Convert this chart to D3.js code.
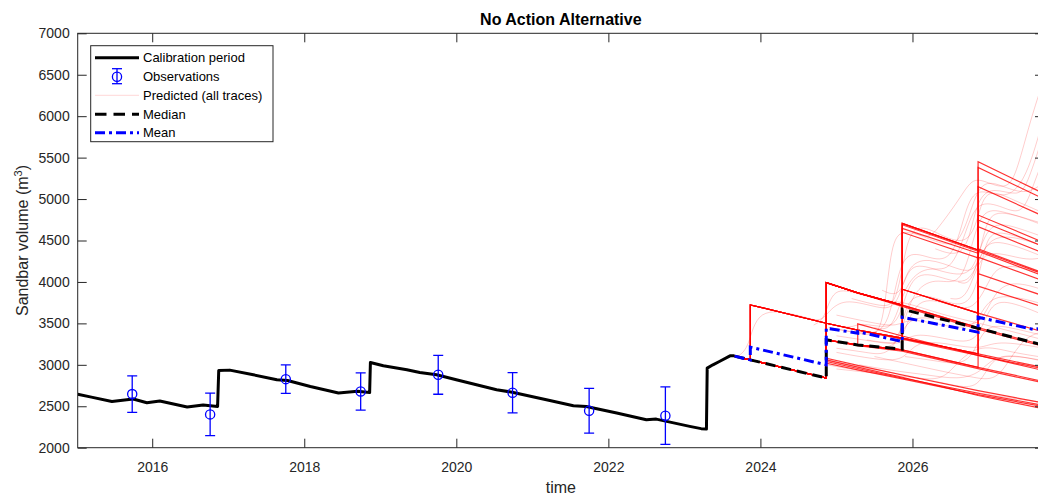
<!DOCTYPE html>
<html>
<head>
<meta charset="utf-8">
<script src="https://cdn.jsdelivr.net/npm/d3@7"></script>
<style>
body { margin: 0; background: #fff; }
svg { display: block; font-family: "Liberation Sans", Arial, Helvetica, sans-serif; }
</style>
</head>
<body>
<div id="chart"></div>
<script>
// calibration run (decimal years / m3)
var calYears = [2015.02, 2015.20, 2015.47, 2015.75, 2015.93, 2016.10, 2016.46, 2016.67, 2016.86,
  2016.875, 2017.02, 2017.33, 2017.64, 2017.78, 2018.08, 2018.45, 2018.70, 2018.86,
  2018.87, 2019.04, 2019.35, 2019.52, 2019.74, 2020.00, 2020.53, 2020.75, 2021.23, 2021.54, 2021.71,
  2022.11, 2022.50, 2022.63, 2023.07, 2023.22, 2023.29, 2023.30, 2023.375, 2023.46, 2023.60, 2023.66];
var calVolumes = [2645, 2610, 2558, 2587, 2542, 2563, 2490, 2514, 2498,
  2931, 2936, 2880, 2819, 2811, 2739, 2660, 2680, 2665,
  3028, 2988, 2940, 2908, 2880, 2819, 2699, 2667, 2570, 2506, 2498,
  2418, 2337, 2345, 2257, 2230, 2225, 2960, 3000, 3040, 3108, 3108];

// observations with error bars
var obsYears = [2015.737, 2016.762, 2017.757, 2018.742, 2019.762, 2020.740, 2021.747, 2022.750];
var obsVolumes = [2647, 2402, 2827, 2679, 2880, 2663, 2446, 2386];
var obsErrors = [220, 257, 172, 225, 235, 243, 271, 347];

// predicted step traces, all share stepYears (repeated years = sudden HFE deposition)
var stepYears = [2023.66, 2023.867, 2023.867, 2024.866, 2024.866, 2025.28, 2025.28, 2025.865, 2025.865, 2026.863, 2026.863, 2027.73];
var stepTraces = [
  [3105, 3060, 3060, 2840, 3040, 2956, 2956, 2841, 2841, 2657, 2657, 2510],
  [3105, 3060, 3060, 2840, 3080, 2994, 2994, 2877, 2877, 2689, 2689, 2538],
  [3105, 3060, 3060, 2840, 3060, 2972, 2972, 2850, 2850, 2630, 2630, 2470],
  [3105, 3060, 3060, 2840, 3020, 2940, 2940, 2830, 2830, 2640, 2640, 2495],
  [3105, 3060, 3060, 2840, 3300, 3240, 3240, 3180, 3180, 2970, 2970, 2798],
  [3105, 3060, 3060, 2840, 3300, 3230, 3230, 3165, 3165, 2955, 2955, 2780],
  [3105, 3060, 3060, 2840, 3300, 3241, 3494, 3348, 3348, 3113, 3113, 2930],
  [3105, 3060, 3060, 2840, 3300, 3240, 3240, 3180, 3912, 3623, 3623, 3395],
  [3105, 3060, 3060, 2840, 3992, 3868, 3868, 3720, 3720, 3448, 3448, 3235],
  [3105, 3060, 3060, 2840, 3992, 3868, 3868, 3705, 3705, 3430, 3430, 3220],
  [3105, 3060, 3060, 2840, 3992, 3868, 3868, 3720, 4707, 4386, 4386, 4092],
  [3105, 3060, 3060, 2840, 3992, 3868, 3868, 3720, 4690, 4370, 4370, 4070],
  [3105, 3060, 3060, 2840, 3992, 3868, 3868, 3720, 4647, 4346, 5380, 5000],
  [3105, 3060, 3723, 3502, 3502, 3420, 3420, 3322, 3322, 3132, 3132, 2965],
  [3105, 3060, 3723, 3502, 3502, 3415, 3415, 3310, 3310, 3115, 3115, 2950],
  [3105, 3060, 3723, 3502, 3502, 3420, 3420, 3322, 3322, 3132, 4300, 4012],
  [3105, 3060, 3723, 3502, 3502, 3420, 3420, 3322, 4600, 4290, 4807, 4475],
  [3105, 3060, 3060, 2840, 3992, 3868, 3868, 3720, 3720, 3448, 4100, 3830],
  [3105, 3060, 3060, 2840, 3992, 3868, 3868, 3720, 4707, 4386, 5450, 5065],
  [3105, 3060, 3060, 2840, 3300, 3240, 3240, 3180, 3912, 3623, 4666, 4345],
  [3105, 3060, 3060, 2840, 3300, 3240, 3240, 3180, 3180, 2970, 3950, 3695],
  [3105, 3060, 3723, 3502, 3502, 3420, 3420, 3322, 3322, 3132, 4747, 4425],
  [3105, 3060, 3060, 2840, 3300, 3240, 3240, 3180, 3912, 3623, 4400, 4105],
  [3105, 3060, 3060, 2840, 3992, 3868, 3868, 3720, 4707, 4386, 5150, 4790]
];

// predicted traces with smoother timing ([year, volume] pairs)
var faintTraces = [
  [[2024.90, 3450], [2025.30, 3380], [2025.55, 3330], [2025.64, 3700], [2025.72, 4450], [2025.85, 4650], [2026.20, 4520], [2026.30, 4600], [2026.62, 5000], [2026.78, 5250], [2026.95, 5220], [2027.25, 5100], [2027.38, 5350], [2027.55, 5950], [2027.73, 6450]],
  [[2024.90, 3450], [2025.40, 3360], [2025.68, 3420], [2025.80, 4100], [2025.95, 4400], [2026.30, 4250], [2026.55, 4300], [2026.70, 4900], [2026.85, 5150], [2027.20, 5000], [2027.42, 5150], [2027.58, 5500], [2027.73, 6000]],
  [[2024.87, 3300], [2025.30, 3230], [2025.75, 3180], [2025.85, 3400], [2025.95, 3900], [2026.40, 3780], [2026.80, 3650], [2026.95, 4500], [2027.10, 4650], [2027.73, 4430]],
  [[2024.87, 3050], [2025.40, 2960], [2025.90, 2880], [2026.50, 2760], [2026.85, 2700], [2027.00, 3000], [2027.20, 3150], [2027.73, 3040]],
  [[2024.87, 3000], [2025.50, 2900], [2026.00, 2820], [2026.50, 2720], [2027.00, 2640], [2027.73, 2540]],
  [[2024.87, 3500], [2025.20, 3430], [2025.30, 3520], [2025.70, 3420], [2025.85, 3600], [2026.00, 4150], [2026.40, 4050], [2026.75, 3950], [2026.90, 4350], [2027.05, 4550], [2027.73, 4300]],
  [[2025.00, 3350], [2025.50, 3280], [2025.85, 3230], [2026.00, 3400], [2026.50, 3300], [2026.85, 3250], [2027.00, 3700], [2027.20, 3800], [2027.73, 3600]],
  [[2025.20, 3800], [2025.60, 3700], [2025.80, 3720], [2025.92, 4550], [2026.10, 4700], [2026.40, 4550], [2026.70, 4450], [2026.85, 4700], [2026.95, 5150], [2027.30, 5000], [2027.73, 4830]],
  [[2025.40, 3300], [2025.75, 3250], [2025.87, 3300], [2026.05, 3850], [2026.50, 3720], [2026.80, 3640], [2027.00, 4000], [2027.15, 4250], [2027.73, 4100]],
  [[2025.00, 2950], [2025.50, 2900], [2026.00, 2850], [2026.40, 2800], [2026.60, 3050], [2026.90, 3250], [2027.30, 3150], [2027.73, 3090]],
  [[2025.60, 3900], [2025.85, 3800], [2025.95, 4250], [2026.30, 4150], [2026.70, 4050], [2026.85, 4250], [2027.00, 4750], [2027.40, 4650], [2027.73, 4540]],
  [[2026.30, 4400], [2026.60, 4300], [2026.75, 4500], [2026.85, 5000], [2027.05, 5150], [2027.40, 5020], [2027.52, 5200], [2027.73, 5800]],
  [[2025.00, 3600], [2025.50, 3500], [2025.80, 3460], [2025.95, 3560], [2026.30, 3500], [2026.70, 3420], [2026.88, 3550], [2027.05, 3900], [2027.73, 3730]],
  [[2025.50, 3100], [2026.00, 3000], [2026.50, 2900], [2026.80, 2850], [2027.10, 2800], [2027.30, 3100], [2027.50, 3350], [2027.73, 3400]],
  [[2024.60, 3560], [2024.80, 3520], [2024.90, 3650], [2025.10, 3800], [2025.50, 3700], [2025.80, 3650], [2025.92, 4200], [2026.20, 4300], [2026.60, 4150], [2026.85, 4100], [2027.00, 4650], [2027.73, 4430]],
  [[2026.60, 4000], [2026.80, 3950], [2026.95, 4700], [2027.10, 4900], [2027.73, 4680]],
  [[2023.70, 3100], [2023.85, 3200], [2023.95, 3700], [2024.50, 3600], [2024.80, 3520], [2024.95, 3480], [2025.30, 3420], [2025.80, 3330], [2026.30, 3250]],
  [[2024.70, 3480], [2024.85, 3550], [2024.95, 3950], [2025.30, 3850], [2025.70, 3760], [2025.90, 3760], [2026.40, 3600], [2026.90, 3500], [2027.73, 3300]],
  [[2025.70, 3300], [2025.85, 3350], [2026.00, 3900], [2026.30, 4050], [2026.60, 3950], [2026.75, 4300], [2026.90, 4900], [2027.20, 4850], [2027.73, 4700]],
  [[2025.50, 3450], [2025.75, 3400], [2025.90, 4000], [2026.20, 4200], [2026.50, 4100], [2026.70, 4600], [2026.85, 5000], [2027.20, 4900], [2027.45, 4800], [2027.60, 5200], [2027.73, 5500]],
  [[2025.90, 3100], [2026.30, 3050], [2026.60, 3000], [2026.80, 3100], [2026.95, 3500], [2027.30, 3450], [2027.73, 3350]],
  [[2025.00, 3200], [2025.40, 3150], [2025.70, 3100], [2025.90, 3500], [2026.10, 3600], [2026.60, 3500], [2026.90, 3450], [2027.10, 3950], [2027.40, 4000], [2027.73, 3900]],
  [[2026.00, 4600], [2026.40, 4450], [2026.60, 4450], [2026.75, 4800], [2026.90, 5250], [2027.20, 5150], [2027.50, 5050], [2027.73, 5200]],
  [[2025.30, 3000], [2025.80, 2920], [2026.20, 2880], [2026.60, 2820], [2026.90, 2900], [2027.10, 3150], [2027.73, 3050]],
  [[2025.00, 3150], [2025.60, 3050], [2025.90, 3060], [2026.05, 3300], [2026.50, 3250], [2026.90, 3180], [2027.10, 3300], [2027.73, 3200]],
  [[2026.50, 3800], [2026.70, 3780], [2026.85, 4200], [2027.00, 4400], [2027.50, 4250], [2027.73, 4300]]
];

// ensemble statistics
var meanYears = [2023.66, 2023.867, 2023.867, 2024.866, 2024.866, 2025.28, 2025.28, 2025.865, 2025.865, 2026.863, 2026.863, 2027.60, 2027.73];
var meanVolumes = [3105, 3060, 3213, 3000, 3442, 3382, 3400, 3281, 3575, 3394, 3575, 3425, 3450];
var medianYears = [2023.66, 2023.867, 2024.866, 2024.866, 2025.28, 2025.865, 2025.865, 2026.863, 2027.73];
var medianVolumes = [3105, 3060, 2840, 3301, 3240, 3189, 3671, 3442, 3235];

var xTickYears = [2016, 2018, 2020, 2022, 2024, 2026];
var yTickValues = [2000, 2500, 3000, 3500, 4000, 4500, 5000, 5500, 6000, 6500, 7000];

var axisColor = "#262626";
var plotLeft = 77.7, plotRight = 1044, plotTop = 33.3, plotBottom = 447.7;

var svg = d3.select("#chart")
  .append("svg")
    .attr("width", 1038)
    .attr("height", 495);

var x = d3.scaleLinear().domain([2015.02, 2027.73]).range([plotLeft, plotRight]);
var y = d3.scaleLinear().domain([2000, 7000]).range([plotBottom, plotTop]);

svg.append("clipPath")
    .attr("id", "plotclip")
  .append("rect")
    .attr("x", plotLeft)
    .attr("y", plotTop)
    .attr("width", plotRight - plotLeft)
    .attr("height", plotBottom - plotTop);

var plot = svg.append("g").attr("clip-path", "url(#plotclip)");

var line = d3.line()
  .x(function(d) { return x(d[0]); })
  .y(function(d) { return y(d[1]); });
var smoothLine = d3.line()
  .x(function(d) { return x(d[0]); })
  .y(function(d) { return y(d[1]); })
  .curve(d3.curveBasis);

function pairs(xs, ys) {
  return xs.map(function(v, i) { return [v, ys[i]]; });
}

// faint predicted traces
plot.selectAll(".faint")
  .data(faintTraces)
  .enter().append("path")
    .attr("class", "faint")
    .attr("d", smoothLine)
    .attr("fill", "none")
    .attr("stroke", "#ff0000")
    .attr("stroke-opacity", 0.2)
    .attr("stroke-width", 1);

// step predicted traces
plot.selectAll(".step")
  .data(stepTraces)
  .enter().append("path")
    .attr("class", "step")
    .attr("d", function(d) { return line(pairs(stepYears, d)); })
    .attr("fill", "none")
    .attr("stroke", "#ff0000")
    .attr("stroke-opacity", 0.8)
    .attr("stroke-width", 1.2);

// calibration
plot.append("path")
    .attr("d", line(pairs(calYears, calVolumes)))
    .attr("fill", "none")
    .attr("stroke", "#000")
    .attr("stroke-width", 3)
    .attr("stroke-linejoin", "round");

// median
plot.append("path")
    .attr("d", line(pairs(medianYears, medianVolumes)))
    .attr("fill", "none")
    .attr("stroke", "#000")
    .attr("stroke-width", 3)
    .attr("stroke-dasharray", "10,6");

// mean
plot.append("path")
    .attr("d", line(pairs(meanYears, meanVolumes)))
    .attr("fill", "none")
    .attr("stroke", "#0000ff")
    .attr("stroke-width", 3)
    .attr("stroke-dasharray", "10,4,3,4");

// observations
var obs = plot.selectAll(".obs")
  .data(obsYears.map(function(yr, i) { return { yr: yr, v: obsVolumes[i], e: obsErrors[i] }; }))
  .enter().append("g")
    .attr("class", "obs")
    .attr("stroke", "#0000ff")
    .attr("stroke-width", 1.3)
    .attr("fill", "none");
obs.append("line")
    .attr("x1", function(d) { return x(d.yr); })
    .attr("x2", function(d) { return x(d.yr); })
    .attr("y1", function(d) { return y(d.v - d.e); })
    .attr("y2", function(d) { return y(d.v + d.e); });
obs.append("line")
    .attr("x1", function(d) { return x(d.yr) - 5; })
    .attr("x2", function(d) { return x(d.yr) + 5; })
    .attr("y1", function(d) { return y(d.v + d.e); })
    .attr("y2", function(d) { return y(d.v + d.e); });
obs.append("line")
    .attr("x1", function(d) { return x(d.yr) - 5; })
    .attr("x2", function(d) { return x(d.yr) + 5; })
    .attr("y1", function(d) { return y(d.v - d.e); })
    .attr("y2", function(d) { return y(d.v - d.e); });
obs.append("circle")
    .attr("cx", function(d) { return x(d.yr); })
    .attr("cy", function(d) { return y(d.v); })
    .attr("r", 4.6);

// axes (box with inward ticks)
function styleAxis(g) {
  g.select(".domain").remove();
  g.selectAll("line").attr("stroke", axisColor);
  g.selectAll("text").attr("fill", axisColor).style("font-size", "14px");
}

svg.append("g")
    .attr("transform", "translate(0," + plotBottom + ")")
    .call(d3.axisBottom(x).tickValues(xTickYears).tickSize(-9).tickPadding(14).tickFormat(d3.format("d")))
    .call(styleAxis);
svg.append("g")
    .attr("transform", "translate(0," + plotTop + ")")
    .call(d3.axisTop(x).tickValues(xTickYears).tickSize(-9).tickFormat(""))
    .call(styleAxis);
svg.append("g")
    .attr("transform", "translate(" + plotLeft + ",0)")
    .call(d3.axisLeft(y).tickValues(yTickValues).tickSize(-9).tickPadding(8).tickFormat(d3.format("d")))
    .call(styleAxis);
svg.append("g")
    .attr("transform", "translate(" + plotRight + ",0)")
    .call(d3.axisRight(y).tickValues(yTickValues).tickSize(-9).tickFormat(""))
    .call(styleAxis);

svg.append("rect")
    .attr("x", plotLeft)
    .attr("y", plotTop)
    .attr("width", plotRight - plotLeft)
    .attr("height", plotBottom - plotTop)
    .attr("fill", "none")
    .attr("stroke", axisColor)
    .attr("stroke-width", 1);

// title and labels
svg.append("text")
    .attr("x", (plotLeft + plotRight) / 2)
    .attr("y", 25)
    .attr("text-anchor", "middle")
    .attr("font-size", 16)
    .attr("font-weight", "bold")
    .attr("fill", "#000")
    .text("No Action Alternative");

svg.append("text")
    .attr("x", (plotLeft + plotRight) / 2)
    .attr("y", 493)
    .attr("text-anchor", "middle")
    .attr("font-size", 16)
    .attr("fill", axisColor)
    .text("time");

var ylab = svg.append("text")
    .attr("transform", "translate(28," + (plotTop + plotBottom) / 2 + ") rotate(-90)")
    .attr("text-anchor", "middle")
    .attr("font-size", 16)
    .attr("fill", axisColor);
ylab.append("tspan").text("Sandbar volume (m");
ylab.append("tspan").attr("baseline-shift", "super").attr("font-size", 11).text("3");
ylab.append("tspan").text(")");

// legend
var legend = svg.append("g");
legend.append("rect")
    .attr("x", 90.7)
    .attr("y", 45.7)
    .attr("width", 182.3)
    .attr("height", 96)
    .attr("fill", "#fff")
    .attr("stroke", axisColor)
    .attr("stroke-width", 1);

var legendRows = [57.7, 76.7, 95.3, 114.3, 132.7];
var legendLabels = ["Calibration period", "Observations", "Predicted (all traces)", "Median", "Mean"];

legend.selectAll(".lt")
  .data(legendLabels)
  .enter().append("text")
    .attr("class", "lt")
    .attr("x", 143)
    .attr("y", function(d, i) { return legendRows[i] + 4.6; })
    .attr("font-size", 13)
    .attr("fill", "#000")
    .text(function(d) { return d; });

legend.append("line")
    .attr("x1", 95).attr("x2", 139)
    .attr("y1", legendRows[0]).attr("y2", legendRows[0])
    .attr("stroke", "#000").attr("stroke-width", 3);

var lo = legend.append("g").attr("stroke", "#0000ff").attr("stroke-width", 1.3).attr("fill", "none");
lo.append("line").attr("x1", 117).attr("x2", 117).attr("y1", legendRows[1] - 8).attr("y2", legendRows[1] + 7);
lo.append("line").attr("x1", 112).attr("x2", 122).attr("y1", legendRows[1] - 8).attr("y2", legendRows[1] - 8);
lo.append("line").attr("x1", 112).attr("x2", 122).attr("y1", legendRows[1] + 7).attr("y2", legendRows[1] + 7);
lo.append("circle").attr("cx", 117).attr("cy", legendRows[1]).attr("r", 4.6);

legend.append("line")
    .attr("x1", 95).attr("x2", 139)
    .attr("y1", legendRows[2]).attr("y2", legendRows[2])
    .attr("stroke", "#ff0000").attr("stroke-opacity", 0.16).attr("stroke-width", 1);

legend.append("line")
    .attr("x1", 95).attr("x2", 139)
    .attr("y1", legendRows[3]).attr("y2", legendRows[3])
    .attr("stroke", "#000").attr("stroke-width", 3).attr("stroke-dasharray", "11.5,7");

legend.append("line")
    .attr("x1", 95).attr("x2", 139)
    .attr("y1", legendRows[4]).attr("y2", legendRows[4])
    .attr("stroke", "#0000ff").attr("stroke-width", 3).attr("stroke-dasharray", "10,4,3,4");
</script>
</body>
</html>
